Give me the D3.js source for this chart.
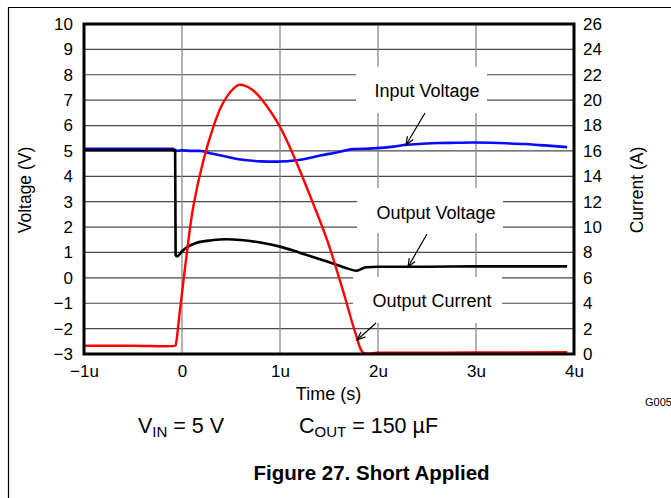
<!DOCTYPE html>
<html>
<head>
<meta charset="utf-8">
<script src="https://cdn.jsdelivr.net/npm/d3@7"></script>
<style>
  html, body { margin: 0; padding: 0; background: #fff; }
  svg { display: block; font-family: "Liberation Sans", Arial, sans-serif; }
</style>
</head>
<body>
<svg id="chart" width="671" height="498"></svg>
<script>
// ---------------- DATA ----------------
// time in microseconds
const inputVoltageT = [-1.0, -0.5, -0.09, -0.08, 0.0, 0.1, 0.18, 0.3, 0.46, 0.6, 0.69, 0.8, 0.97, 1.17, 1.3, 1.41, 1.55, 1.75, 1.95, 2.16, 2.29, 2.45, 2.63, 2.8, 2.97, 3.15, 3.31, 3.5, 3.65, 3.8, 3.93];
const inputVoltageV = [5.08, 5.08, 5.08, 5.0, 5.02, 5.0, 5.0, 4.9, 4.77, 4.66, 4.62, 4.59, 4.58, 4.63, 4.72, 4.82, 4.92, 5.07, 5.1, 5.17, 5.24, 5.28, 5.31, 5.32, 5.33, 5.32, 5.3, 5.27, 5.23, 5.19, 5.15];

const outputVoltageT = [-1.0, -0.5, -0.07, -0.065, -0.05, 0.0, 0.05, 0.15, 0.3, 0.46, 0.6, 0.8, 1.0, 1.2, 1.48, 1.68, 1.78, 1.88, 2.0, 2.5, 3.0, 3.5, 3.93];
const outputVoltageV = [5.03, 5.03, 5.03, 0.9, 0.85, 1.05, 1.2, 1.38, 1.48, 1.52, 1.49, 1.39, 1.23, 0.99, 0.64, 0.38, 0.28, 0.42, 0.44, 0.44, 0.45, 0.45, 0.45];

const outputCurrentT = [-1.0, -0.5, -0.07, -0.065, -0.02, 0.05, 0.115, 0.22, 0.32, 0.4, 0.46, 0.53, 0.58, 0.64, 0.72, 0.82, 1.0, 1.14, 1.31, 1.48, 1.65, 1.78, 1.85, 2.0, 3.0, 3.93];
const outputCurrentA = [0.65, 0.65, 0.65, 0.7, 3.5, 8.0, 11.6, 15.3, 17.9, 19.5, 20.3, 20.95, 21.2, 21.15, 20.8, 20.0, 17.9, 15.6, 12.4, 9.0, 4.8, 1.4, 0.1, 0.1, 0.12, 0.15];

const xTicks = [-1, 0, 1, 2, 3, 4];
const xTickLabels = ["\u22121u", "0", "1u", "2u", "3u", "4u"];
const voltTicks = [-3, -2, -1, 0, 1, 2, 3, 4, 5, 6, 7, 8, 9, 10];
const currTicks = [0, 2, 4, 6, 8, 10, 12, 14, 16, 18, 20, 22, 24, 26];

const annotations = [
  { text: "Input Voltage",  cx: 427, base: 97,  box: [356, 67, 487, 113], arrow: [425, 113, 406, 145] },
  { text: "Output Voltage", cx: 436, base: 219, box: [357, 188, 503, 233], arrow: [427, 234, 408, 267] },
  { text: "Output Current", cx: 432, base: 307, box: [353, 277, 502, 323], arrow: [376, 323, 357, 340] }
];

// ---------------- LAYOUT ----------------
const L = 84, R = 574, T = 24, B = 354;
const svg = d3.select("#chart");

const x = d3.scaleLinear().domain([-1, 4]).range([L, R]);
const yV = d3.scaleLinear().domain([-3, 10]).range([B, T]);
const yA = d3.scaleLinear().domain([0, 26]).range([B, T]);

// outer frame
svg.append("line").attr("x1", 8.5).attr("x2", 8.5).attr("y1", 7).attr("y2", 498).attr("stroke", "#000").attr("stroke-width", 1.2);
svg.append("line").attr("x1", 8).attr("x2", 671).attr("y1", 7.5).attr("y2", 7.5).attr("stroke", "#000").attr("stroke-width", 1.2);

// grid
const grid = svg.append("g");
grid.selectAll(".hg").data(voltTicks.filter(v => v > -3 && v < 10)).enter().append("line")
  .attr("x1", L).attr("x2", R).attr("y1", d => yV(d)).attr("y2", d => yV(d))
  .attr("stroke", "#4a4a4a").attr("stroke-width", 1.2);
grid.selectAll(".vg").data(xTicks.filter(t => t > -1 && t < 4)).enter().append("line")
  .attr("x1", d => x(d)).attr("x2", d => x(d)).attr("y1", T).attr("y2", B)
  .attr("stroke", "#8a8a8a").attr("stroke-width", 1.3);

// annotation boxes (white, covering grid)
svg.selectAll(".abox").data(annotations).enter().append("rect")
  .attr("x", d => d.box[0]).attr("y", d => d.box[1])
  .attr("width", d => d.box[2] - d.box[0]).attr("height", d => d.box[3] - d.box[1])
  .attr("fill", "#fff");

// lines
const mk = (ts, vs, ys, curve) => d3.line().x((d, i) => x(ts[i])).y((d, i) => ys(vs[i])).curve(curve)(vs);
svg.append("path").attr("d", mk(inputVoltageT, inputVoltageV, yV, d3.curveMonotoneX)).attr("fill", "none").attr("stroke", "#0a0aff").attr("stroke-width", 2.6);
svg.append("path").attr("d", mk(outputVoltageT, outputVoltageV, yV, d3.curveMonotoneX)).attr("fill", "none").attr("stroke", "#000").attr("stroke-width", 2.6);
svg.append("path").attr("d", mk(outputCurrentT, outputCurrentA, yA, d3.curveCatmullRom.alpha(0.5))).attr("fill", "none").attr("stroke", "#ff0000").attr("stroke-width", 2.4);

// frame
svg.append("rect").attr("x", L).attr("y", T).attr("width", R - L).attr("height", B - T)
  .attr("fill", "none").attr("stroke", "#000").attr("stroke-width", 3);

// axes
const axL = svg.append("g").attr("transform", `translate(${L},0)`)
  .call(d3.axisLeft(yV).tickValues(voltTicks).tickSize(0).tickPadding(11).tickFormat(d => d < 0 ? "\u2212" + Math.abs(d) : d));
const axR = svg.append("g").attr("transform", `translate(${R},0)`)
  .call(d3.axisRight(yA).tickValues(currTicks).tickSize(0).tickPadding(9));
const axB = svg.append("g").attr("transform", `translate(0,${B})`)
  .call(d3.axisBottom(x).tickValues(xTicks).tickSize(0).tickPadding(11).tickFormat((d, i) => xTickLabels[i]));
[axL, axR, axB].forEach(a => {
  a.select(".domain").remove();
  a.selectAll("text").attr("fill", "#000").style("font-size", "17px").style("font-family", "Liberation Sans, Arial, sans-serif");
});

// axis titles
svg.append("text").attr("transform", `translate(31,190) rotate(-90)`).attr("text-anchor", "middle")
  .style("font-size", "17.5px").text("Voltage (V)");
svg.append("text").attr("transform", `translate(643,190) rotate(-90)`).attr("text-anchor", "middle")
  .style("font-size", "17.5px").text("Current (A)");
svg.append("text").attr("x", 328.5).attr("y", 400).attr("text-anchor", "middle")
  .style("font-size", "18px").text("Time (s)");

// annotations text and arrows
svg.selectAll(".atext").data(annotations).enter().append("text")
  .attr("x", d => d.cx).attr("y", d => d.base).attr("text-anchor", "middle")
  .style("font-size", "18px").text(d => d.text);

annotations.forEach(a => {
  const [x1, y1, x2, y2] = a.arrow;
  svg.append("line").attr("x1", x1).attr("y1", y1).attr("x2", x2).attr("y2", y2)
    .attr("stroke", "#000").attr("stroke-width", 1.2);
  const ang = Math.atan2(y2 - y1, x2 - x1);
  const len = 9, spread = 0.38;
  const p = s => [x2 - len * Math.cos(ang + s), y2 - len * Math.sin(ang + s)];
  const a1 = p(spread), a2 = p(-spread);
  svg.append("path").attr("d", `M${a1[0]},${a1[1]}L${x2},${y2}L${a2[0]},${a2[1]}`)
    .attr("fill", "none").attr("stroke", "#000").attr("stroke-width", 1.2);
});

// G005
svg.append("text").attr("x", 645).attr("y", 406).style("font-size", "11px").text("G005");

// conditions
const vin = svg.append("text").attr("x", 138).attr("y", 433).style("font-size", "21.5px");
vin.append("tspan").text("V");
vin.append("tspan").attr("dy", 4).style("font-size", "15px").text("IN");
vin.append("tspan").attr("dy", -4).text(" = 5 V");

const cout = svg.append("text").attr("x", 299).attr("y", 433).style("font-size", "21.5px");
cout.append("tspan").text("C");
cout.append("tspan").attr("dy", 4).style("font-size", "15px").text("OUT");
cout.append("tspan").attr("dy", -4).text(" = 150 \u00B5F");

// figure title
svg.append("text").attr("x", 371.5).attr("y", 480).attr("text-anchor", "middle")
  .style("font-size", "20.5px").style("font-weight", "bold").text("Figure 27. Short Applied");
</script>
</body>
</html>
